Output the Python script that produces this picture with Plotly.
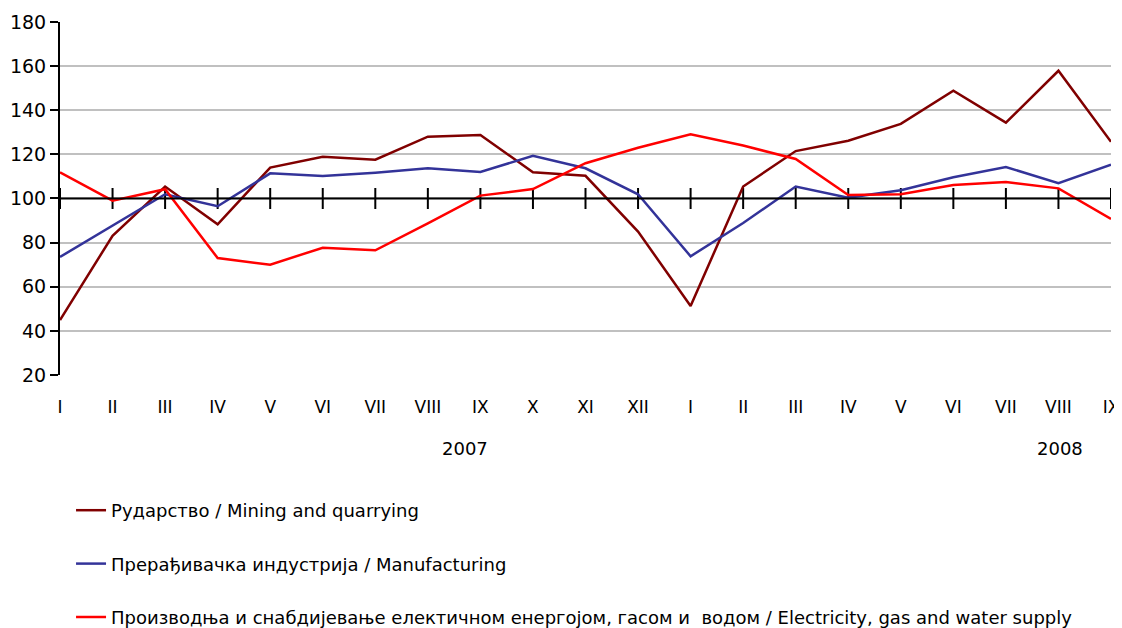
import plotly.graph_objects as go

# Month labels, Jan 2007 .. Sep 2008
months = ["I", "II", "III", "IV", "V", "VI", "VII", "VIII", "IX", "X", "XI", "XII",
          "I", "II", "III", "IV", "V", "VI", "VII", "VIII", "IX"]
years = ["2007", "2008"]
year_pos = [7.7, 19.03]  # where the year captions sit under the month labels

mining = [44.9, 83.1, 105.4, 88.3, 114.0, 118.9, 117.6, 128.0, 128.8, 111.9, 110.3,
          85.0, 51.3, 105.4, 121.5, 126.2, 133.8, 148.9, 134.4, 157.9, 125.7]
manufacturing = [73.5, 87.7, 101.9, 96.5, 111.4, 110.2, 111.7, 113.7, 112.0, 119.4, 113.7,
                 101.9, 73.8, 88.9, 105.4, 100.4, 103.7, 109.6, 114.3, 106.9, 115.3]
electricity = [111.9, 99.0, 104.2, 73.0, 70.0, 77.7, 76.5, 88.7, 101.3, 104.3, 116.0,
               123.0, 129.1, 124.0, 117.9, 101.6, 101.9, 106.1, 107.5, 104.6, 90.7]

names = [
    "Рударство / Mining and quarrying",
    "Прерађивачка индустрија / Manufacturing",
    "Производња и снабдијевање електичном енергојом, гасом и  водом / Electricity, gas and water supply",
]
colors = ["#800000", "#333399", "#FF0000"]

FONT = "DejaVu Sans"
x = list(range(len(months)))

fig = go.Figure()

# tick marks crossing the base line at 100
fig.add_trace(go.Scatter(
    x=x, y=[100] * len(x), mode="markers",
    marker=dict(symbol="line-ns-open", size=15, color="black",
                line=dict(color="black", width=2)),
    showlegend=False, hoverinfo="skip",
))

for i, (series, name, col) in enumerate(zip([mining, manufacturing, electricity], names, colors)):
    fig.add_trace(go.Scatter(
        x=x, y=series, mode="lines", name=name,
        line=dict(color=col, width=2.5),
        legendgroup=str(i),
    ))

# base line at 100
fig.add_shape(type="line", xref="x", yref="y", x0=0, x1=len(x) - 1, y0=100, y1=100,
              line=dict(color="black", width=2), layer="above")

for yr, pos in zip(years, year_pos):
    fig.add_annotation(x=pos, y=0.285, xref="x", yref="paper", text=yr, showarrow=False,
                       font=dict(family=FONT, size=18, color="black"))

# page body adds an 8px margin, so the figure is shifted 8px right/down;
# the plot sits in the upper part of the paper, legend underneath inside the paper
fig.update_layout(
    width=1114, height=628,
    margin=dict(l=52, r=11, t=14, b=0),
    paper_bgcolor="white", plot_bgcolor="white",
    font=dict(family=FONT, size=18, color="black"),
    showlegend=True,
    legend=dict(x=0.0105, y=0, xanchor="left", yanchor="bottom",
                font=dict(family=FONT, size=18), tracegroupgap=27,
                bgcolor="rgba(0,0,0,0)"),
    xaxis=dict(range=[0, len(x) - 1], tickvals=x, ticktext=months, showgrid=False,
               zeroline=False, showline=False, ticks="", ticklabelstandoff=20,
               tickfont=dict(family=FONT, size=17), automargin=False),
    yaxis=dict(range=[20, 180], dtick=20, domain=[0.4251, 1],
               showgrid=True, gridcolor="#C0C0C0", gridwidth=2,
               zeroline=False, showline=True, linecolor="black", linewidth=2,
               ticks="outside", ticklen=8, tickwidth=2, tickcolor="black",
               tickfont=dict(family=FONT, size=19), automargin=False),
)

fig.write_html("out.html")
